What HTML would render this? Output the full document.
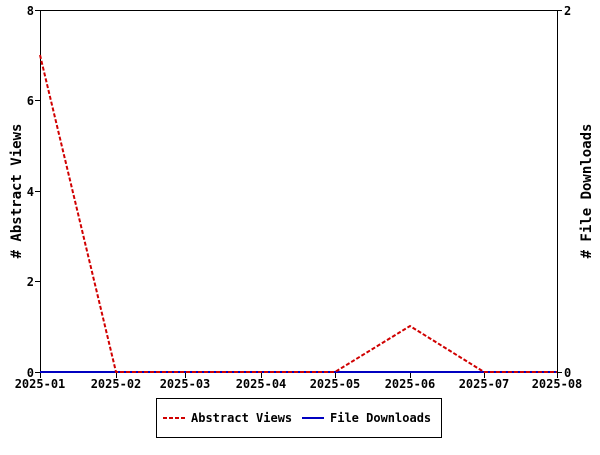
<!DOCTYPE html>
<html><head><style>body{margin:0;background:#fff}</style></head><body>
<svg width="600" height="450" xmlns="http://www.w3.org/2000/svg" font-family="'DejaVu Sans Mono','Liberation Mono',monospace" font-weight="bold" font-size="12">
<rect width="600" height="450" fill="#fff"/>
<g stroke="#000" stroke-width="1" fill="none">
<path d="M40.5 10.5H557.5M40.5 10V372M557.5 10V372"/>
<path d="M35 10.5H40M35 100.5H40M35 191.5H40M35 281.5H40M35 372.5H40"/>
<path d="M557 10.5H562M557 372.5H562"/>
<path d="M40.5 372V378M116.5 372V378M185.5 372V378M261.5 372V378M335.5 372V378M410.5 372V378M484.5 372V378M557.5 372V378"/>
</g>
<g text-anchor="end">
<text x="34" y="15">8</text><text x="34" y="105">6</text><text x="34" y="196">4</text><text x="34" y="286">2</text><text x="34" y="377">0</text>
</g>
<text x="564" y="15">2</text><text x="564" y="377">0</text>
<g text-anchor="middle">
<text x="40" y="388">2025-01</text><text x="116" y="388">2025-02</text><text x="185" y="388">2025-03</text><text x="261" y="388">2025-04</text><text x="335" y="388">2025-05</text><text x="410" y="388">2025-06</text><text x="484" y="388">2025-07</text><text x="557" y="388">2025-08</text>
</g>
<text transform="translate(21,191) rotate(-90)" text-anchor="middle" font-size="14">#  Abstract Views</text>
<text transform="translate(591,191) rotate(-90)" text-anchor="middle" font-size="14">#  File Downloads</text>
<path d="M40 372H557" stroke="#0000c0" stroke-width="2"/>
<polyline points="40,55 116,372 335,372 410,326 484,372 557,372" fill="none" stroke="#d00000" stroke-width="2" stroke-dasharray="4,2"/>
<rect x="156.5" y="398.5" width="285" height="39" fill="#fff" stroke="#000"/>
<path d="M163 418H185" stroke="#d00000" stroke-width="2" stroke-dasharray="4,2"/>
<text x="191" y="422">Abstract Views</text>
<path d="M302 418H324" stroke="#0000c0" stroke-width="2"/>
<text x="330" y="422">File Downloads</text>
</svg>
</body></html>
